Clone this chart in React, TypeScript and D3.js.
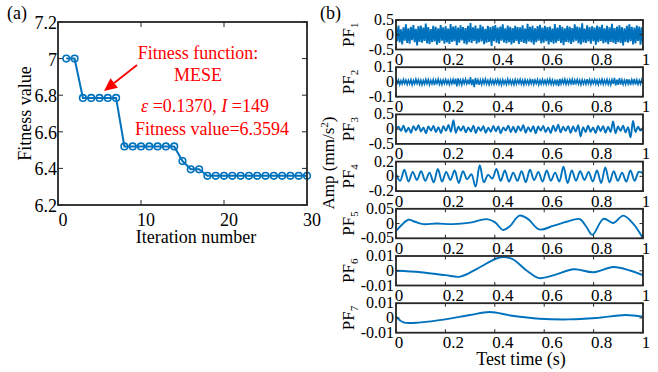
import React from "react";
import * as d3 from "d3";

const BLUE = "#0072BD";
const INK = "#262626";
const RED = "#FF0000";
const FONT = "'Liberation Serif', 'Times New Roman', serif";

// (a) optimisation curve
const iterNo = [1, 2, 3, 4, 5, 6, 7, 8, 9, 10, 11, 12, 13, 14, 15, 16, 17, 18, 19, 20, 21, 22, 23, 24, 25, 26, 27, 28, 29, 30];
const fitnessValue = [
  7.0, 7.0, 6.785, 6.785, 6.785, 6.785, 6.785, 6.52, 6.52, 6.52, 6.52, 6.52, 6.52, 6.52, 6.44,
  6.395, 6.395, 6.3594, 6.3594, 6.3594, 6.3594, 6.3594, 6.3594, 6.3594, 6.3594, 6.3594, 6.3594,
  6.3594, 6.3594, 6.3594,
];
const iterTicks = [0, 10, 20, 30];
const fitTicks = [6.2, 6.4, 6.6, 6.8, 7, 7.2];
const noteLines = ["Fitness function:", "MESE"];

// (b) PF components
const pf1 = [
  0.28, -0.22, 0.31, -0.26, 0.18, -0.33, 0.25, -0.2, 0.35, -0.28, 0.22, -0.3, 0.27, -0.18, 0.33, -0.25, 0.2, -0.36, 0.29, -0.24,
  0.31, -0.27, 0.24, -0.21, 0.38, -0.29, 0.26, -0.32, 0.19, -0.25, 0.3, -0.23, 0.27, -0.34, 0.22, -0.28, 0.33, -0.2, 0.25, -0.3,
  0.29, -0.26, 0.21, -0.31, 0.36, -0.24, 0.28, -0.22, 0.3, -0.35, 0.24, -0.27, 0.32, -0.19, 0.26, -0.29, 0.23, -0.33, 0.3, -0.25,
  0.4, -0.28, 0.25, -0.21, 0.31, -0.3, 0.22, -0.26, 0.34, -0.23, 0.28, -0.32, 0.2, -0.27, 0.3, -0.24, 0.26, -0.38, 0.29, -0.22,
  0.33, -0.27, 0.24, -0.3, 0.28, -0.2, 0.35, -0.26, 0.22, -0.29, 0.31, -0.25, 0.27, -0.33, 0.23, -0.28, 0.3, -0.21, 0.26, -0.31,
  0.25, -0.24, 0.32, -0.28, 0.21, -0.3, 0.37, -0.23, 0.27, -0.26, 0.3, -0.34, 0.22, -0.25, 0.29, -0.2, 0.34, -0.29, 0.24, -0.27,
  0.3, -0.22, 0.26, -0.33, 0.28, -0.25, 0.21, -0.3, 0.36, -0.27, 0.24, -0.21, 0.33, -0.28, 0.27, -0.35, 0.22, -0.24, 0.3, -0.26,
  0.27, -0.31, 0.23, -0.25, 0.35, -0.2, 0.28, -0.29, 0.25, -0.33, 0.39, -0.26, 0.21, -0.28, 0.32, -0.23, 0.26, -0.3, 0.29, -0.22,
  0.24, -0.34, 0.31, -0.25, 0.27, -0.21, 0.34, -0.29, 0.22, -0.26, 0.3, -0.32, 0.25, -0.24, 0.37, -0.27, 0.23, -0.31, 0.28, -0.25,
  0.32, -0.28, 0.26, -0.36, 0.22, -0.24, 0.3, -0.27, 0.35, -0.22, 0.27, -0.33, 0.24, -0.29, 0.31, -0.21, 0.28, -0.34, 0.25, -0.3,
];
const pf2 = [
  0.03, -0.015, 0.012, -0.018, 0.009, -0.014, 0.016, -0.01, 0.013, -0.017, 0.011, -0.012, 0.015, -0.02, 0.01, -0.013, 0.018, -0.011, 0.014, -0.016,
  0.012, -0.019, 0.01, -0.014, 0.017, -0.012, 0.015, -0.018, 0.011, -0.013, 0.016, -0.021, 0.013, -0.01, 0.019, -0.015, 0.012, -0.017, 0.014, -0.011,
  0.016, -0.013, 0.011, -0.018, 0.014, -0.012, 0.017, -0.016, 0.022, -0.03, 0.025, -0.014, 0.012, -0.019, 0.015, -0.011, 0.018, -0.013, 0.01, -0.016,
  0.033, -0.022, 0.018, -0.035, 0.027, -0.016, 0.014, -0.02, 0.013, -0.017, 0.015, -0.012, 0.019, -0.014, 0.011, -0.018, 0.016, -0.013, 0.012, -0.015,
  0.014, -0.011, 0.017, -0.016, 0.012, -0.019, 0.015, -0.013, 0.01, -0.017, 0.018, -0.012, 0.014, -0.015, 0.011, -0.018, 0.016, -0.014, 0.013, -0.01,
  0.017, -0.015, 0.012, -0.018, 0.015, -0.013, 0.011, -0.016, 0.014, -0.012, 0.019, -0.016, 0.013, -0.011, 0.015, -0.018, 0.012, -0.014, 0.017, -0.013,
  0.011, -0.016, 0.014, -0.012, 0.018, -0.015, 0.013, -0.017, 0.01, -0.014, 0.016, -0.028, 0.021, -0.013, 0.015, -0.011, 0.018, -0.016, 0.012, -0.014,
  0.015, -0.012, 0.017, -0.019, 0.013, -0.01, 0.016, -0.014, 0.012, -0.018, 0.014, -0.013, 0.011, -0.016, 0.019, -0.012, 0.015, -0.017, 0.013, -0.011,
  0.016, -0.014, 0.012, -0.017, 0.014, -0.011, 0.018, -0.015, 0.013, -0.012, 0.017, -0.016, 0.011, -0.019, 0.015, -0.013, 0.028, -0.024, 0.016, -0.02,
  0.026, -0.018, 0.014, -0.016, 0.012, -0.015, 0.019, -0.013, 0.017, -0.022, 0.015, -0.012, 0.02, -0.017, 0.013, -0.016, 0.011, -0.014, 0.015, -0.012,
];
const pf3 = [
  0.0, 0.08, -0.06, 0.12, -0.1, 0.05, -0.12, 0.1, -0.04, 0.13,
  -0.08, 0.06, -0.14, 0.09, -0.05, 0.11, -0.1, 0.07, -0.13, 0.1,
  -0.06, 0.14, -0.09, 0.3, -0.12, 0.08, -0.05, 0.1, -0.11, 0.06,
  -0.08, 0.12, -0.13, 0.07, -0.06, 0.1, -0.12, 0.05, -0.09, 0.11,
  -0.07, 0.09, -0.14, 0.06, -0.05, 0.12, -0.1, 0.08, -0.11, 0.1,
  -0.06, 0.13, -0.12, 0.07, -0.08, 0.1, -0.14, 0.09, -0.05, 0.11,
  -0.1, 0.06, -0.13, 0.12, -0.07, 0.15, -0.11, 0.08, -0.06, 0.1,
  -0.12, 0.09, -0.08, 0.13, -0.25, 0.07, -0.1, 0.12, -0.09, 0.06,
  -0.13, 0.11, -0.07, 0.1, -0.12, 0.08, -0.1, 0.26, -0.14, 0.09,
  -0.06, 0.12, -0.11, 0.07, -0.28, 0.28, -0.1, 0.08, -0.05, 0.06,
];
const pf4 = [
  0.03, -0.06, 0.09, -0.07, 0.06, -0.05, 0.07, -0.06, 0.05, -0.08,
  0.1, -0.07, 0.06, -0.05, 0.08, -0.09, 0.07, -0.04, 0.03, -0.14,
  0.15, -0.08, 0.02, -0.03, 0.1, -0.06, 0.08, -0.07, 0.05, -0.06,
  0.07, -0.08, 0.09, -0.05, 0.06, -0.07, 0.08, -0.06, 0.05, -0.07,
  0.13, -0.09, 0.08, -0.06, 0.07, -0.05, 0.06, -0.07, 0.08, -0.09,
  0.12, -0.08, 0.07, -0.06, 0.05, -0.07, 0.08, -0.06, 0.06, 0.04,
];
const pf5Time = [0, 0.023, 0.05, 0.077, 0.11, 0.165, 0.23, 0.3, 0.367, 0.4, 0.434, 0.46, 0.5, 0.535, 0.58, 0.636, 0.69, 0.744, 0.77, 0.795, 0.84, 0.88, 0.92, 0.96, 1];
const pf5 = [-0.025, -0.005, 0.013, 0.006, -0.002, 0.0, -0.002, 0.003, 0.015, 0.005, -0.022, -0.01, 0.027, 0.015, -0.02, -0.008, 0.006, 0.015, -0.01, -0.038, 0.016, 0.002, 0.027, 0.0, -0.05];
const pf6Time = [0, 0.1, 0.2, 0.26, 0.33, 0.42, 0.47, 0.53, 0.58, 0.64, 0.72, 0.8, 0.88, 0.95, 1];
const pf6 = [0.0, -0.001, -0.003, -0.004, 0.0015, 0.009, 0.008, 0.0, -0.005, -0.003, 0.001, -0.001, 0.0025, 0.0, -0.003];
const pf7Time = [0, 0.03, 0.1, 0.2, 0.3, 0.38, 0.47, 0.58, 0.7, 0.81, 0.93, 1];
const pf7 = [0.001, -0.003, -0.003, -0.001, 0.002, 0.004, 0.0015, -0.0005, -0.001, 0.0, 0.002, 0.0008];

const timeTicks = [0, 0.2, 0.4, 0.6, 0.8, 1];
const pfNames = ["1", "2", "3", "4", "5", "6", "7"];
const pfLimits = [0.5, 0.1, 0.5, 0.2, 0.05, 0.01, 0.01];
const pfTickText = [
  ["-0.5", "0", "0.5"],
  ["-0.1", "0", "0.1"],
  ["-0.5", "0", "0.5"],
  ["-0.2", "0", "0.2"],
  ["-0.05", "0", "0.05"],
  ["-0.01", "0", "0.01"],
  ["-0.01", "0", "0.01"],
];

const sampleTimes = (v: number[]) => v.map((_, i) => i / (v.length - 1));
const pfSeries = [
  { time: sampleTimes(pf1), value: pf1, curve: d3.curveLinear, w: 1.9 },
  { time: sampleTimes(pf2), value: pf2, curve: d3.curveLinear, w: 1.6 },
  { time: sampleTimes(pf3), value: pf3, curve: d3.curveCatmullRom, w: 1.9 },
  { time: sampleTimes(pf4), value: pf4, curve: d3.curveCatmullRom, w: 1.9 },
  { time: pf5Time, value: pf5, curve: d3.curveCatmullRom, w: 1.9 },
  { time: pf6Time, value: pf6, curve: d3.curveCatmullRom, w: 1.9 },
  { time: pf7Time, value: pf7, curve: d3.curveCatmullRom, w: 1.9 },
];

function PanelA() {
  const box = { left: 58, right: 307, top: 22, bottom: 205 };
  const x = d3.scaleLinear().domain([0, 30]).range([box.left, box.right]);
  const y = d3.scaleLinear().domain([6.2, 7.2]).range([box.bottom, box.top]);
  const pts = iterNo.map((n, i) => [n, fitnessValue[i]] as [number, number]);
  const line = d3.line<[number, number]>().x((d) => x(d[0])).y((d) => y(d[1]));
  const tk = 5;

  // arrow pointing at the first plateau
  const ax0 = 137, ay0 = 65, ax1 = 104, ay1 = 91;
  const ang = Math.atan2(ay1 - ay0, ax1 - ax0);
  const hl = 13, hw = 6;
  const bx = ax1 - hl * Math.cos(ang), by = ay1 - hl * Math.sin(ang);
  const head = [
    [ax1, ay1],
    [bx + hw * Math.sin(ang), by - hw * Math.cos(ang)],
    [bx - hw * Math.sin(ang), by + hw * Math.cos(ang)],
  ].map((p) => p.join(",")).join(" ");

  return (
    <g fontFamily={FONT}>
      <text x={7} y={19} fontSize={18} fill="#000">(a)</text>
      <rect x={box.left} y={box.top} width={box.right - box.left} height={box.bottom - box.top} fill="#fff" />
      {iterTicks.map((t) => (
        <g key={t}>
          <line x1={x(t)} x2={x(t)} y1={box.bottom} y2={box.bottom - tk} stroke={INK} />
          <line x1={x(t)} x2={x(t)} y1={box.top} y2={box.top + tk} stroke={INK} />
          <text x={x(t) + 5} y={226} fontSize={18} textAnchor="middle" fill="#000">{t}</text>
        </g>
      ))}
      {fitTicks.map((t) => (
        <g key={t}>
          <line x1={box.left} x2={box.left + tk} y1={y(t)} y2={y(t)} stroke={INK} />
          <line x1={box.right} x2={box.right - tk} y1={y(t)} y2={y(t)} stroke={INK} />
          <text x={57} y={y(t) + 7} fontSize={18} textAnchor="end" fill="#000">{String(t)}</text>
        </g>
      ))}
      <path d={line(pts)!} fill="none" stroke={BLUE} strokeWidth={2} />
      {pts.map((p) => (
        <circle key={p[0]} cx={x(p[0])} cy={y(p[1])} r={3.3} fill="none" stroke={BLUE} strokeWidth={1.6} />
      ))}
      <rect x={box.left} y={box.top} width={box.right - box.left} height={box.bottom - box.top} fill="none" stroke={INK} strokeWidth={1.8} />
      <text x={196} y={243} fontSize={18} textAnchor="middle" fill="#000">Iteration number</text>
      <text transform={`translate(31,${(box.top + box.bottom) / 2}) rotate(-90)`} fontSize={18} textAnchor="middle" fill="#000">Fitness value</text>

      <g fill={RED} fontSize={18} textAnchor="middle">
        <text x={198} y={59}>{noteLines[0]}</text>
        <text x={198} y={81}>{noteLines[1]}</text>
        <text x={205} y={112}>
          <tspan fontStyle="italic">ε</tspan> =0.1370, <tspan fontStyle="italic">I</tspan> =149
        </text>
        <text x={212} y={135}>Fitness value=6.3594</text>
      </g>
      <line x1={ax0} y1={ay0} x2={bx} y2={by} stroke={RED} strokeWidth={1.8} />
      <polygon points={head} fill={RED} />
    </g>
  );
}

function PanelB() {
  const left = 396, right = 643, step = 47.2, h = 29.5, top0 = 20;
  const x = d3.scaleLinear().domain([0, 1]).range([left, right]);
  const tk = 3.5;
  return (
    <g fontFamily={FONT}>
      <text x={320} y={19} fontSize={18} fill="#000">(b)</text>
      <defs>
        {pfNames.map((n, i) => (
          <clipPath key={n} id={`clip-pf${n}`}>
            <rect x={left} y={top0 + i * step} width={right - left} height={h} />
          </clipPath>
        ))}
      </defs>
      {pfNames.map((n, i) => {
        const top = top0 + i * step;
        const bottom = top + h;
        const lim = pfLimits[i];
        const y = d3.scaleLinear().domain([-lim, lim]).range([bottom, top]);
        const s = pfSeries[i];
        const pts = s.time.map((t, k) => [t, s.value[k]] as [number, number]);
        const line = d3.line<[number, number]>().x((d) => x(d[0])).y((d) => y(d[1])).curve(s.curve);
        const yt = [-lim, 0, lim];
        return (
          <g key={n}>
            <rect x={left} y={top} width={right - left} height={h} fill="#fff" />
            <path d={line(pts)!} fill="none" stroke={BLUE} strokeWidth={s.w} clipPath={`url(#clip-pf${n})`} />
            {timeTicks.map((t) => (
              <g key={t}>
                <line x1={x(t)} x2={x(t)} y1={bottom} y2={bottom - tk} stroke={INK} />
                <line x1={x(t)} x2={x(t)} y1={top} y2={top + tk} stroke={INK} />
                <text x={x(t) + (t === 0 || t === 1 ? 3 : 8)} y={bottom + 15.5} fontSize={17} textAnchor="middle" fill="#000">{String(t)}</text>
              </g>
            ))}
            {yt.map((v, j) => (
              <g key={j}>
                <line x1={left} x2={left + tk} y1={y(v)} y2={y(v)} stroke={INK} />
                <line x1={right} x2={right - tk} y1={y(v)} y2={y(v)} stroke={INK} />
                <text x={394} y={y(v) + 5} fontSize={16} textAnchor="end" fill="#000">{pfTickText[i][j]}</text>
              </g>
            ))}
            <rect x={left} y={top} width={right - left} height={h} fill="none" stroke={INK} strokeWidth={1.8} />
            <text transform={`translate(354,${top + h / 2}) rotate(-90)`} fontSize={17} textAnchor="middle" fill="#000">
              PF<tspan fontSize={11} dy={4}>{n}</tspan>
            </text>
          </g>
        );
      })}
      <text transform="translate(334,163) rotate(-90)" fontSize={17} textAnchor="middle" fill="#000">
        Amp (mm/s<tspan fontSize={11} dy={-6}>2</tspan><tspan dy={6}>)</tspan>
      </text>
      <text x={521} y={365} fontSize={18} textAnchor="middle" fill="#000">Test time (s)</text>
    </g>
  );
}

export default function App() {
  return (
    <svg
      width={658}
      height={372}
      viewBox="0 0 658 372"
      style={{ position: "absolute", left: 0, top: 0, background: "#fff" }}
    >
      <rect width={658} height={372} fill="#fff" />
      <PanelA />
      <PanelB />
    </svg>
  );
}
